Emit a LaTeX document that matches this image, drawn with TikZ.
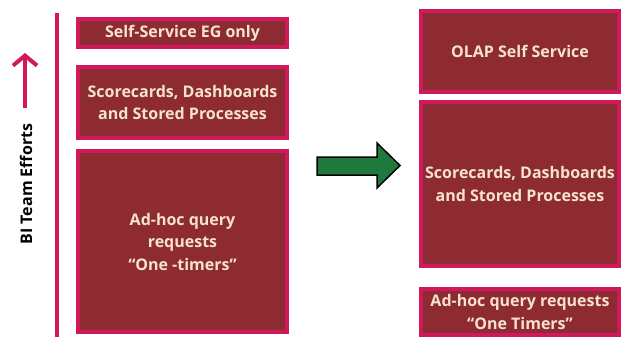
\documentclass[tikz,border=0pt]{standalone}
\usepackage{fontspec}
\setmainfont{Open Sans}
\usetikzlibrary{arrows.meta}
\definecolor{boxfill}{HTML}{8E2A32}
\definecolor{boxline}{HTML}{D0185A}
\definecolor{boxtext}{HTML}{F4E4CC}
\definecolor{arrowgreen}{HTML}{1E7A3C}
\begin{document}
\begin{tikzpicture}[x=1pt,y=-1pt,
  blk/.style={draw=boxline, fill=boxfill, line width=4pt, text=boxtext,
    font=\fontsize{16}{22.5}\selectfont\bfseries, align=center, inner sep=0pt},
]
\useasboundingbox (0,0) rectangle (622,337);
% axis line
\fill[boxline] (55,13) rectangle (59,337);
% up arrow
\coordinate (ab) at (25,108);
\coordinate (at) at (25,53);
\draw[boxline, line width=4pt, -{Straight Barb[length=10pt,width=24pt,line width=4pt]}] (ab) -- (at);
\node[rotate=90, font=\fontsize{16}{20}\selectfont\bfseries, anchor=center] (lab) at (26,184) {BI Team Efforts};
% left boxes
\node[blk, minimum width=209pt, minimum height=28pt] (l1) at (182.5,33) {Self-Service EG only};
\node[blk, minimum width=209pt, minimum height=71pt] (l2) at (182.5,102.5) {Scorecards, Dashboards\\and Stored Processes};
\node[blk, minimum width=209pt, minimum height=181pt] (l3) at (182.5,241.5) {Ad-hoc query\\requests\\``One -timers''};
% right boxes
\node[blk, minimum width=198pt, minimum height=81pt] (r1) at (520,51.5) {OLAP Self Service};
\node[blk, minimum width=198pt, minimum height=164pt] (r2) at (520,184) {Scorecards, Dashboards\\and Stored Processes};
\node[blk, minimum width=198pt, minimum height=46pt] (r3) at (520,312) {Ad-hoc query requests\\``One Timers''};
% green arrow
\draw[black, line width=1.5pt, fill=arrowgreen, line join=miter]
  (317,157) -- (377,157) -- (377,143) -- (400,165.5) -- (377,188) -- (377,175) -- (317,175) -- cycle;
\end{tikzpicture}
\end{document}
